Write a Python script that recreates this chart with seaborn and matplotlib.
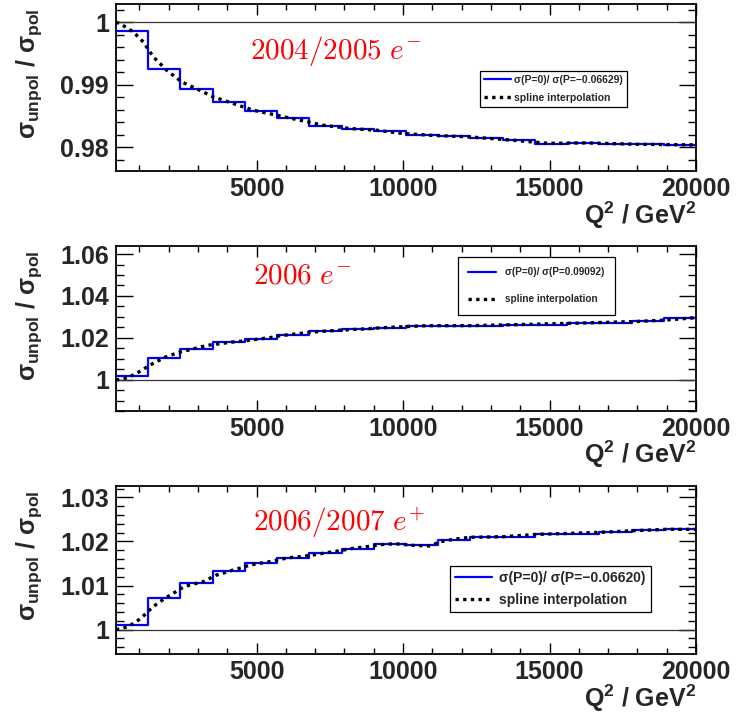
import numpy as np
import pandas as pd
import matplotlib
matplotlib.use("Agg")
import matplotlib.pyplot as plt
import seaborn as sns
from matplotlib.ticker import MultipleLocator, FuncFormatter, FixedLocator
from matplotlib.lines import Line2D

# ---------------- data ----------------
bin_edges = [200, 1300, 2400, 3500, 4600, 5700, 6800, 7900, 9000, 10100,
             11200, 12300, 13400, 14500, 15600, 16700, 17800, 18900, 20000]

ratio_0405 = [0.99861, 0.99259, 0.98933, 0.98731, 0.98587, 0.98464, 0.98347, 0.98299, 0.98261,
              0.98192, 0.98176, 0.98149, 0.98112, 0.98053, 0.98075, 0.98048, 0.98048, 0.98037]
ratio_06 = [1.00177, 1.01036, 1.0148, 1.0180, 1.01943, 1.02148, 1.02325, 1.02404, 1.02482,
            1.02549, 1.02549, 1.02563, 1.0261, 1.02626, 1.0269, 1.02722, 1.02817, 1.0296]
ratio_0607 = [1.00107, 1.00712, 1.01052, 1.01331, 1.01512, 1.01633, 1.01739, 1.0183, 1.01936,
              1.01913, 1.02034, 1.02109, 1.02109, 1.0217, 1.0217, 1.02215, 1.0226, 1.02275]

spl_q2_0405 = [200, 340, 790, 1130, 1475, 1930, 2445, 3010, 3525, 4205, 4890, 5690, 6485, 7280,
               8195, 9105, 10015, 10925, 12290, 13770, 14910, 16275, 17985, 20000]
spl_0405 = [1.0000, 0.99979, 0.99845, 0.99685, 0.99445, 0.99232, 0.99045, 0.98923, 0.98805,
            0.98699, 0.98592, 0.98512, 0.98432, 0.98352, 0.98299, 0.98272, 0.98219, 0.98192,
            0.98165, 0.98112, 0.98064, 0.98069, 0.98048, 0.98037]

spl_q2_06 = [200, 280, 620, 905, 1135, 1360, 1590, 1875, 2160, 2445, 2785, 3130, 3410, 3755,
             4095, 4550, 5005, 5460, 5800, 6255, 6825, 7395, 7965, 8645, 9330, 10015, 10810,
             12300, 14000, 16000, 18000, 19000, 20000]
spl_06 = [1.0000, 1.0000, 1.00096, 1.00304, 1.00494, 1.0070, 1.00859, 1.01069, 1.01212, 1.01337,
          1.01451, 1.01575, 1.01656, 1.01718, 1.01785, 1.01847, 1.01928, 1.02005, 1.0210,
          1.02167, 1.02263, 1.02325, 1.02372, 1.0242, 1.02482, 1.0253, 1.02578,
          1.0258, 1.0263, 1.0270, 1.0278, 1.0285, 1.0296]

spl_q2_0607 = [200, 340, 620, 850, 1080, 1250, 1475, 1705, 1935, 2160, 2385, 2615, 2900, 3185,
               3410, 3640, 3925, 4205, 4495, 4780, 5120, 5460, 5800, 6145, 6485, 6940, 7395,
               7850, 8305, 8760, 9105, 9445, 9900, 10240, 10925, 11265, 11725, 12290, 13430,
               14570, 15705, 16730, 17870, 19010, 20000]
spl_0607 = [1.0000, 1.00016, 1.00068, 1.00159, 1.00272, 1.00385, 1.00522, 1.00635, 1.00734,
            1.00825, 1.00923, 1.00991, 1.01043, 1.01088, 1.01165, 1.0124, 1.01293, 1.01354,
            1.01406, 1.01467, 1.01505, 1.01543, 1.01596, 1.01633, 1.01655, 1.01694, 1.01746,
            1.01791, 1.01846, 1.01882, 1.01914, 1.01943, 1.01943, 1.01914, 1.01898, 1.01995,
            1.0205, 1.02095, 1.02109, 1.02162, 1.02185, 1.02208, 1.02245, 1.02276, 1.02276]

period_labels = [r"$\mathrm{2004/2005}\ e^{-}$", r"$\mathrm{2006}\ e^{-}$", r"$\mathrm{2006/2007}\ e^{+}$"]
legend_labels = [u"\u03c3(P=0)/ \u03c3(P=\u22120.06629)", u"\u03c3(P=0)/ \u03c3(P=0.09092)",
                 u"\u03c3(P=0)/ \u03c3(P=\u22120.06620)"]
spline_label = "spline interpolation"
x_ticks = [5000, 10000, 15000, 20000]

# ---------------- style ----------------
sns.set_style("ticks")
plt.rcParams["font.family"] = ["Liberation Sans", "DejaVu Sans"]
plt.rcParams["font.weight"] = "bold"
plt.rcParams["mathtext.fontset"] = "custom"
plt.rcParams["mathtext.rm"] = "Liberation Sans:bold"
plt.rcParams["mathtext.bf"] = "Liberation Sans:bold"
plt.rcParams["mathtext.it"] = "Liberation Sans:bold"
plt.rcParams["mathtext.sf"] = "Liberation Sans:bold"

fig = plt.figure(figsize=(7.48, 7.2), dpi=100)
W, H = 748.0, 720.0

# pixel boxes: (left, top, right, bottom)
boxes = [(116, 3.5, 696, 171), (116, 245.5, 696, 411), (116, 486, 696, 654)]
ylims = [(0.9762, 1.0030), (0.9850, 1.0641), (0.99445, 1.0326)]
ymajor = [0.01, 0.02, 0.01]
yminor = [0.002, 0.005, 0.002]
hist_sets = [ratio_0405, ratio_06, ratio_0607]
spl_sets = [(spl_q2_0405, spl_0405), (spl_q2_06, spl_06), (spl_q2_0607, spl_0607)]
text_pos = [(0.231, 0.716), (0.236, 0.816), (0.236, 0.78)]
leg_center = [(0.754, 0.49), (0.725, 0.758), (0.749, 0.387)]
leg_fs = [7.5, 7.2, 10]
leg_ls = [0.75, 1.7, 0.53]
leg_bp = [0.38, 1.05, 0.36]
leg_hl = [2.6, 2.75, 2.66]
leg_htp = [0.3, 0.95, 0.5]


def fmt(v, pos):
    s = "%g" % round(v, 4)
    return s


for i in range(3):
    l, t, r, b = boxes[i]
    ax = fig.add_axes([l / W, 1 - b / H, (r - l) / W, (b - t) / H])
    vals = hist_sets[i]
    df_h = pd.DataFrame({"q2": bin_edges, "r": vals + [vals[-1]]})
    ax.axhline(1.0, color="#333333", lw=0.9, zorder=1)
    sns.lineplot(data=df_h, x="q2", y="r", ax=ax, color="#0000ff", lw=1.6,
                 drawstyle="steps-post", estimator=None, sort=False, zorder=3)
    qx, qy = spl_sets[i]
    df_s = pd.DataFrame({"q2": qx, "r": qy})
    sns.lineplot(data=df_s, x="q2", y="r", ax=ax, color="black", lw=2.4,
                 linestyle=(0, (1, 1.3)), dash_capstyle="butt", estimator=None,
                 sort=False, zorder=4)
    ax.set_xlim(200, 20000)
    ax.set_ylim(*ylims[i])
    ax.xaxis.set_major_locator(FixedLocator(x_ticks))
    ax.xaxis.set_minor_locator(MultipleLocator(1000))
    ax.yaxis.set_major_locator(MultipleLocator(ymajor[i]))
    ax.yaxis.set_minor_locator(MultipleLocator(yminor[i]))
    ax.yaxis.set_major_formatter(FuncFormatter(fmt))
    ax.xaxis.set_major_formatter(FuncFormatter(lambda v, p: "%d" % v))
    ax.tick_params(axis="both", which="both", direction="in", top=True, right=True,
                   color="black")
    ax.tick_params(axis="y", which="major", length=12, width=1.0, labelsize=18, pad=5)
    ax.tick_params(axis="y", which="minor", length=6, width=1.0)
    ax.tick_params(axis="x", which="major", length=8, width=1.0, labelsize=18, pad=4)
    ax.tick_params(axis="x", which="minor", length=4, width=1.0)
    for lab in ax.get_xticklabels() + ax.get_yticklabels():
        lab.set_fontweight("bold")
    for sp in ax.spines.values():
        sp.set_linewidth(1.3)
        sp.set_color("black")
    ax.set_xlabel("")
    ax.set_ylabel(r"$\sigma_{\mathbf{unpol}}$ / $\sigma_{\mathbf{pol}}$", fontsize=18,
                  fontweight="bold", loc="top")
    ax.yaxis.set_label_coords(-0.125, 0.97)
    ax.text(1.0, -0.262, r"Q$^{\mathbf{2}}$ / GeV$^{\mathbf{2}}$", transform=ax.transAxes,
            ha="right", va="center", fontsize=18, fontweight="bold")
    ax.text(text_pos[i][0], text_pos[i][1], period_labels[i], transform=ax.transAxes,
            ha="left", va="center", fontsize=21, color="red", math_fontfamily="cm")
    handles = [Line2D([], [], color="#0000ff", lw=1.6),
               Line2D([], [], color="black", lw=2.4, linestyle=(0, (1, 1.3)),
                      dash_capstyle="butt")]
    leg = ax.legend(handles, [legend_labels[i], spline_label], loc="center",
                    bbox_to_anchor=leg_center[i], fontsize=leg_fs[i], frameon=True,
                    fancybox=False, shadow=False, framealpha=1, edgecolor="black",
                    labelspacing=leg_ls[i], borderpad=leg_bp[i], handlelength=leg_hl[i],
                    handletextpad=leg_htp[i], borderaxespad=0,
                    prop={"weight": "bold", "size": leg_fs[i]})
    leg.get_frame().set_linewidth(0.9)

fig.savefig("out.png", dpi=100)
